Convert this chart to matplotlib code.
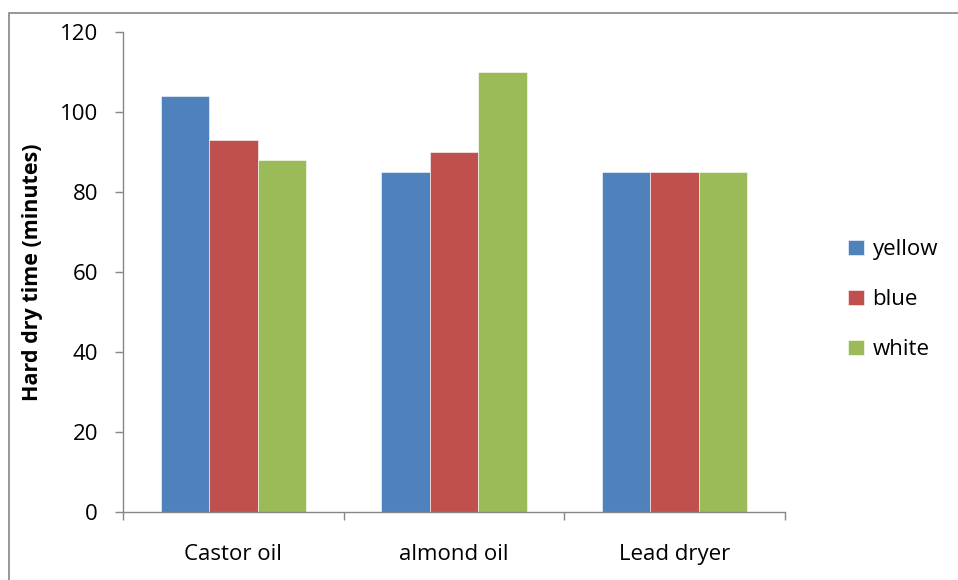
import numpy as np
import matplotlib.pyplot as plt
from matplotlib.patches import Rectangle

plt.rcParams["font.family"] = ["Open Sans", "DejaVu Sans"]

categorias = ["Castor oil", "almond oil", "Lead dryer"]
series = ["yellow", "blue", "white"]
amarelo = [104, 85, 85]
azul = [93, 90, 85]
branco = [88, 110, 85]
cores = ["#4f81bd", "#c0504d", "#9bbb59"]

fig = plt.figure(figsize=(9.58, 5.8), dpi=100)
ax = fig.add_axes([0.1284, 0.1172, 0.691, 0.8276])

# moldura do gráfico (só esquerda/topo aparecem)
fig.patches.append(Rectangle((9 / 958, -0.1), 1.2, 1 - 13 / 580 + 0.1,
                             transform=fig.transFigure, fill=False,
                             edgecolor="#868686", linewidth=1.2))

x = np.arange(len(categorias))
largura = 0.22
for i, (nome, valores) in enumerate(zip(series, [amarelo, azul, branco])):
    ax.bar(x + (i - 1) * largura, valores, largura, color=cores[i],
           edgecolor="white", linewidth=0.4, label=nome)

ax.set_xlim(-0.5, 2.5)
ax.set_ylim(0, 120)
ax.set_yticks(range(0, 121, 20))
ax.set_xticks(x)
ax.set_xticklabels(categorias)
ax.set_xticks([-0.5, 0.5, 1.5, 2.5], minor=True)
ax.tick_params(axis="x", which="major", length=0, pad=23, labelsize=16)
ax.tick_params(axis="x", which="minor", length=6, width=1, color="#868686", direction="out")
ax.tick_params(axis="y", length=6, width=1, color="#868686", labelsize=16, pad=12)

for lado in ["top", "right"]:
    ax.spines[lado].set_visible(False)
for lado in ["left", "bottom"]:
    ax.spines[lado].set_color("#868686")
    ax.spines[lado].set_linewidth(1)

ax.set_ylabel("Hard dry time (minutes)", fontsize=15.5, fontweight="bold", labelpad=12)

ax.legend(loc="center left", bbox_to_anchor=(1.065, 0.442), frameon=False,
          fontsize=16, handlelength=0.7, handleheight=0.7, labelspacing=1.3,
          handletextpad=0.4)

fig.savefig("out.png", dpi=100)
